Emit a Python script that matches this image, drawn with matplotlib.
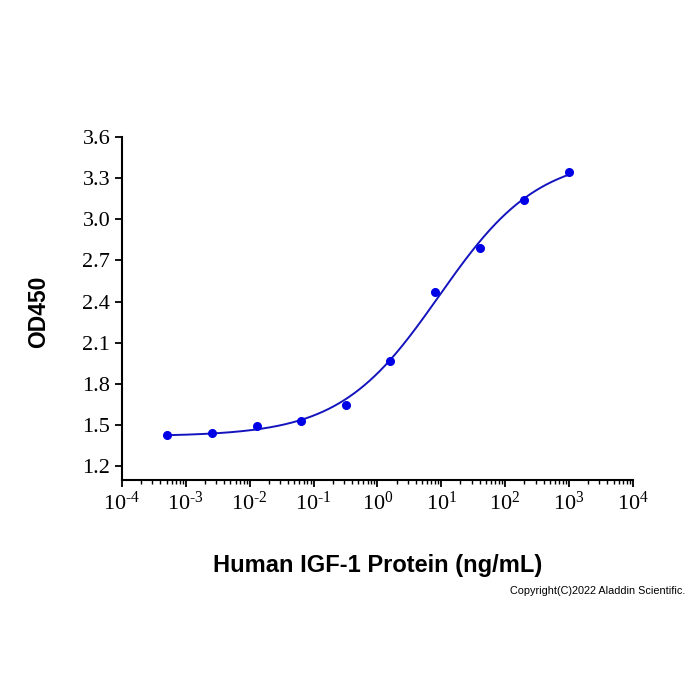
import numpy as np
import matplotlib
matplotlib.use("Agg")
import matplotlib.pyplot as plt
from matplotlib.ticker import FixedLocator, LogLocator, NullFormatter

plt.rcParams["mathtext.fontset"] = "custom"
plt.rcParams["mathtext.rm"] = "Liberation Serif"

# data
concentration = [0.000512, 0.00256, 0.0128, 0.064, 0.32, 1.6, 8, 40, 200, 1000]
od450 = [1.426, 1.443, 1.494, 1.531, 1.650, 1.968, 2.467, 2.790, 3.140, 3.347]
y_ticks = [1.2, 1.5, 1.8, 2.1, 2.4, 2.7, 3.0, 3.3, 3.6]
x_decades = list(range(-4, 5))


def four_pl(x, p):
    bottom, top, ec50, hill = p
    return top + (bottom - top) / (1 + (x / ec50) ** hill)


def fit_four_pl(x, y, p0, n_iter=200):
    """Small Levenberg-Marquardt fit in log(ec50) space."""
    x = np.asarray(x, float)
    y = np.asarray(y, float)
    q = np.array([p0[0], p0[1], np.log(p0[2]), p0[3]], float)
    lam = 1e-2

    def model(q):
        return four_pl(x, [q[0], q[1], np.exp(q[2]), q[3]])

    for _ in range(n_iter):
        r = y - model(q)
        J = np.zeros((len(x), 4))
        for k in range(4):
            dq = np.zeros(4)
            dq[k] = 1e-6
            J[:, k] = (model(q + dq) - model(q - dq)) / 2e-6
        A = J.T @ J
        step = np.linalg.solve(A + lam * np.diag(np.diag(A)), J.T @ r)
        q_new = q + step
        if np.sum((y - model(q_new)) ** 2) < np.sum(r ** 2):
            q = q_new
            lam *= 0.5
        else:
            lam *= 4
    return [q[0], q[1], np.exp(q[2]), q[3]]


params = fit_four_pl(concentration, od450, [1.42, 3.5, 8.0, 0.7])
x_fit = np.logspace(np.log10(concentration[0]), np.log10(concentration[-1]), 400)
y_fit = four_pl(x_fit, params)

fig = plt.figure(figsize=(7, 7), dpi=100)
ax = fig.add_axes([0.1743, 0.3143, 0.7297, 0.49])

ax.plot(x_fit, y_fit, color="#1414be", lw=1.4, zorder=2)
ax.plot(concentration, od450, "o", color="#0000e6", ms=5.5, zorder=3)

ax.set_xscale("log")
ax.set_xlim(1e-4, 1e4)
ax.set_ylim(1.1, 3.6)

# hyphen (U+2010) instead of a math minus, like the reference
ax.xaxis.set_major_locator(FixedLocator([10.0 ** d for d in x_decades]))
ax.set_xticklabels([rf"$\mathrm{{10^{{{'\u2010' if d < 0 else ''}{abs(d)}}}}}$"
                    for d in x_decades])
ax.xaxis.set_minor_locator(LogLocator(base=10, subs=np.arange(2, 10), numticks=20))
ax.xaxis.set_minor_formatter(NullFormatter())
ax.set_yticks(y_ticks)
ax.set_yticklabels([f"{v:.1f}" for v in y_ticks])

for side in ("top", "right"):
    ax.spines[side].set_visible(False)
for side in ("left", "bottom"):
    ax.spines[side].set_linewidth(1.5)

ax.tick_params(axis="both", which="major", direction="out", length=5, width=1.3,
               labelsize=16)
ax.tick_params(axis="x", which="minor", direction="out", length=3, width=1.0)
for lbl in ax.get_yticklabels() + ax.get_xticklabels():
    lbl.set_fontfamily("Liberation Serif")

ax.set_xlabel("Human IGF-1 Protein (ng/mL)", fontfamily="Liberation Sans",
              fontweight="bold", fontsize=17, va="center")
ax.xaxis.set_label_coords(0.5, -0.248)
ax.set_ylabel("OD450", fontfamily="Liberation Sans", fontweight="bold",
              fontsize=16.5, va="center")
ax.yaxis.set_label_coords(-0.164, 0.49)

fig.text(0.979, 0.155, "Copyright(C)2022 Aladdin Scientific.", ha="right",
         va="center", fontfamily="Liberation Sans", fontsize=7.8)

fig.savefig("out.png", dpi=100)
